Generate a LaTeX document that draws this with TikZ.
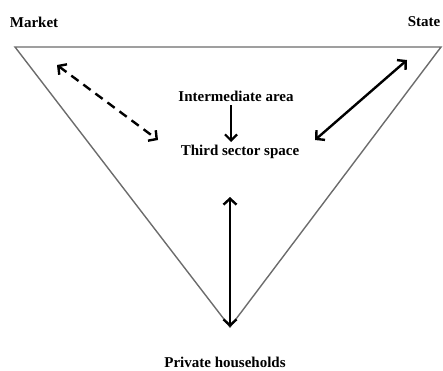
\documentclass[tikz,border=0pt]{standalone}
\usepackage{fontspec}
\setmainfont{Liberation Serif}
\usetikzlibrary{arrows.meta,positioning}

\begin{document}
\begin{tikzpicture}[x=1pt,y=-1pt,
    lbl/.style={font=\fontsize{15}{18}\selectfont\bfseries, inner sep=0pt},
    side/.style={draw=gray!85!black, line width=1.4pt, line join=miter},
    link/.style={line width=2.4pt,
      {Straight Barb[length=6pt,width=13pt]}-{Straight Barb[length=6pt,width=13pt]}},
    down/.style={line width=2.2pt, -{Straight Barb[length=6pt,width=12pt]}}]
  \useasboundingbox (0,0) rectangle (443,370);

  % corners of the triangle
  \coordinate (tl) at (15,47);
  \coordinate (tr) at (441,47);
  \coordinate (bot) at (230,327);
  \draw[side] (tl) -- (tr) -- (bot) -- cycle;

  % labels
  \node[lbl] (market) at (34,22) {Market};
  \node[lbl] (state) at (424,22) {State};
  \node[lbl] (households) at (225,362) {Private households};
  \node[lbl] (intermediate) at (236,96) {Intermediate area};
  \node[lbl] (thirdsector) at (240,152) {Third sector space};

  % arrow ends
  \coordinate (mkt-end) at (57,65);
  \coordinate (mkt-mid) at (158,140);
  \coordinate (st-end) at (407,60);
  \coordinate (st-mid) at (315,140);
  \coordinate (hh-top) at (230,197);

  \draw[link, dashed, dash pattern=on 9pt off 6pt] (mkt-end) -- (mkt-mid);
  \draw[link] (st-end) -- (st-mid);
  \draw[link] (hh-top) -- (bot);
  \draw[down, shorten <=4pt, shorten >=3pt]
    ([xshift=-5pt]intermediate.south) -- ([xshift=-5pt]intermediate.south |- thirdsector.north);
\end{tikzpicture}
\end{document}
